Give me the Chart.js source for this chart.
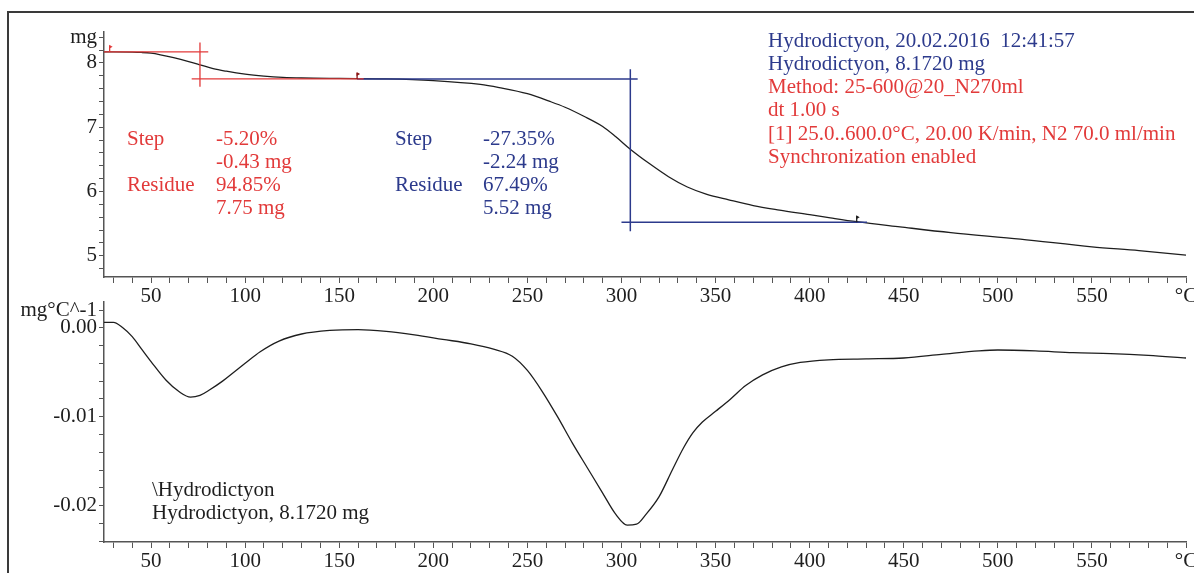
<!DOCTYPE html>
<html>
<head>
<meta charset="utf-8">
<script src="https://cdn.jsdelivr.net/npm/chart.js@4.4.1/dist/chart.umd.min.js"></script>
<style>
  html, body { margin: 0; padding: 0; background: #fff; }
  #wrap { position: relative; width: 1194px; height: 573px; overflow: hidden; }
  #frame { position: absolute; left: 7px; top: 11px; width: 1200px; height: 600px;
           border-left: 2px solid #3a3a3a; border-top: 2px solid #3a3a3a; }
  canvas { position: absolute; left: 0; }
  #tg { top: 0; }
  #dtg { top: 290px; }
</style>
</head>
<body>
<div id="wrap">
  <div id="frame"></div>
  <canvas id="tg" width="1194" height="312"></canvas>
  <canvas id="dtg" width="1194" height="283"></canvas>
</div>
<script>
const FONT = "'Liberation Serif', 'Times New Roman', serif";
const RED = "#e23a3a";
const BLUE = "#2c3a8c";
const INK = "#1e1e1e";

// TG curve: temperature (°C) / mass (mg)
const tgTemp = [25, 30, 40, 45, 50, 55, 62, 70, 76, 83, 90, 100, 110, 120, 130, 150, 175, 200, 225, 235,
                250, 262, 270, 280, 290, 297, 305, 315, 325, 335, 345, 357, 370, 384, 400, 411, 425, 448,
                475, 512, 550, 575, 600];
const tgMass = [8.172, 8.172, 8.168, 8.162, 8.15, 8.125, 8.08, 8.02, 7.97, 7.91, 7.87, 7.825, 7.795, 7.775,
                7.765, 7.758, 7.752, 7.725, 7.665, 7.615, 7.52, 7.40, 7.31, 7.17, 7.01, 6.85, 6.65, 6.43,
                6.23, 6.07, 5.96, 5.87, 5.78, 5.71, 5.64, 5.59, 5.53, 5.45, 5.36, 5.26, 5.14, 5.08, 5.01];

// DTG curve: temperature (°C) / mg·°C^-1
const dtgTemp = [25, 30, 35, 40, 45, 50, 58, 65, 71, 76, 81, 88, 94, 100, 108, 118, 130, 145, 160, 175, 190,
                 205, 220, 232, 242, 250, 258, 266, 274, 282, 290, 297, 303, 308, 313, 320, 327, 333, 338,
                 343, 350, 358, 366, 375, 385, 395, 410, 430, 450, 470, 490, 500, 520, 540, 560, 580, 600];
const dtgRate = [0.0006, 0.0006, 0.0000, -0.0010, -0.0024, -0.0038, -0.0059, -0.0072, -0.0078, -0.0076,
                 -0.0070, -0.0060, -0.0050, -0.0040, -0.0027, -0.0015, -0.0007, -0.0003, -0.0002, -0.0004,
                 -0.0008, -0.0013, -0.0018, -0.0024, -0.0032, -0.0048, -0.0072, -0.0100, -0.0130, -0.0158,
                 -0.0186, -0.0210, -0.0222, -0.0221, -0.0210, -0.0190, -0.0160, -0.0135, -0.0118, -0.0106,
                 -0.0094, -0.0080, -0.0065, -0.0053, -0.0044, -0.0039, -0.0036, -0.0035, -0.0034, -0.0030,
                 -0.0026, -0.0025, -0.0026, -0.0028, -0.0029, -0.0031, -0.0034];

// step evaluation construction lines, [t1, m1, t2, m2] in data units
const redSteps = [[25, 8.172, 80.4, 8.172], [71.6, 7.75, 163, 7.75], [76, 8.315, 76, 7.63]];
const blueSteps = [[159.5, 7.75, 308.6, 7.75], [304.7, 7.90, 304.7, 5.38], [300, 5.52, 430.5, 5.52]];
// step limit pins: temperature, mass
const pinTemp = [28, 159.5, 425];
const pinMass = [8.172, 7.75, 5.52];

const step1Text = [["Step", "-5.20%"], ["", "-0.43 mg"], ["Residue", "94.85%"], ["", "7.75 mg"]];
const step2Text = [["Step", "-27.35%"], ["", "-2.24 mg"], ["Residue", "67.49%"], ["", "5.52 mg"]];
const headerLines = ["Hydrodictyon, 20.02.2016  12:41:57", "Hydrodictyon, 8.1720 mg", "Method: 25-600@20_N270ml",
                     "dt 1.00 s", "[1] 25.0..600.0°C, 20.00 K/min, N2 70.0 ml/min", "Synchronization enabled"];
const headerColors = [BLUE, BLUE, RED, RED, RED, RED];
const curveNote = ["\\Hydrodictyon", "Hydrodictyon, 8.1720 mg"];

function segments(list) {
  const pts = [];
  list.forEach(s => {
    pts.push({ x: s[0], y: s[1] }, { x: s[2], y: s[3] }, { x: s[2], y: null });
  });
  return pts;
}

function pairs(xs, ys) {
  return xs.map((x, i) => ({ x: x, y: ys[i] }));
}

// every multiple of step inside the axis range, nothing at the bounds
function stepTicks(step) {
  return s => {
    const first = Math.ceil(s.min / step - 1e-9), last = Math.floor(s.max / step + 1e-9);
    const ticks = [];
    for (let k = first; k <= last; k++) ticks.push({ value: +(k * step).toFixed(6) });
    s.ticks = ticks;
  };
}

function tempAxis(height) {
  return {
    type: "linear", min: 25, max: 600,
    grid: { drawOnChartArea: false, tickLength: 6, color: "#555", tickWidth: 1 },
    border: { color: "#555", width: 1.5 },
    ticks: {
      autoSkip: false, maxRotation: 0, padding: 1, color: INK,
      font: { family: FONT, size: 21 },
      callback: v => v === 600 ? "°C" : (v % 50 === 0 ? String(v) : "")
    },
    afterBuildTicks: stepTicks(10),
    afterFit: s => { s.height = height; s.paddingLeft = 0; s.paddingRight = 0; }
  };
}

function valueAxis(min, max, step, label) {
  return {
    min: min, max: max,
    grid: { drawOnChartArea: false, tickLength: 5, color: "#555", tickWidth: 1 },
    border: { color: "#555", width: 1.5 },
    ticks: { autoSkip: false, padding: 2, color: INK, font: { family: FONT, size: 21 }, callback: label },
    afterBuildTicks: stepTicks(step),
    afterFit: s => { s.width = 96; s.paddingTop = 0; s.paddingBottom = 0; }
  };
}

// free text and step pins
const notes = {
  id: "notes",
  afterDatasetsDraw(chart, args, opts) {
    const ctx = chart.ctx;
    ctx.save();
    ctx.font = "21px " + FONT;
    ctx.textBaseline = "middle";
    ctx.textAlign = "left";
    (opts.texts || []).forEach(t => {
      ctx.fillStyle = t.color;
      ctx.fillText(t.text, t.x, t.y);
    });
    const xs = chart.scales.x, ys = chart.scales.y;
    (opts.pinTemp || []).forEach((t, i) => {
      const px = xs.getPixelForValue(t), py = ys.getPixelForValue(opts.pinMass[i]);
      ctx.strokeStyle = opts.pinColors[i];
      ctx.fillStyle = opts.pinColors[i];
      ctx.lineWidth = 1.3;
      ctx.beginPath();
      ctx.moveTo(px, py);
      ctx.lineTo(px, py - 6);
      ctx.stroke();
      ctx.beginPath();
      ctx.moveTo(px - 0.5, py - 7);
      ctx.lineTo(px + 3, py - 5);
      ctx.lineTo(px - 0.5, py - 3);
      ctx.closePath();
      ctx.fill();
    });
    ctx.restore();
  }
};

function stepTexts(rows, x1, x2, y0, color) {
  const out = [];
  rows.forEach((r, i) => {
    const y = y0 + i * 23.3;
    if (r[0]) out.push({ text: r[0], x: x1, y: y, color: color });
    out.push({ text: r[1], x: x2, y: y, color: color });
  });
  return out;
}

const topTexts = []
  .concat(stepTexts(step1Text, 127, 216, 139, RED))
  .concat(stepTexts(step2Text, 395, 483, 139, BLUE))
  .concat(headerLines.map((t, i) => ({ text: t, x: 768, y: 41 + i * 23.3, color: headerColors[i] })));

Chart.defaults.font.family = FONT;

new Chart(document.getElementById("tg"), {
  type: "line",
  data: {
    datasets: [
      { data: segments(redSteps), borderColor: RED, borderWidth: 1.3, pointRadius: 0, spanGaps: false },
      { data: segments(blueSteps), borderColor: BLUE, borderWidth: 1.5, pointRadius: 0, spanGaps: false },
      { data: pairs(tgTemp, tgMass), borderColor: INK, borderWidth: 1.3, pointRadius: 0, cubicInterpolationMode: "monotone" }
    ]
  },
  options: {
    responsive: false,
    animation: false,
    layout: { padding: { left: 8, right: 8, top: 32, bottom: 0 } },
    scales: {
      x: tempAxis(35),
      y: valueAxis(4.67, 8.48, 0.2, v => {
        if (Math.abs(v - Math.round(v)) < 1e-6) return String(Math.round(v));
        if (Math.abs(v - 8.4) < 1e-6) return "mg";
        return "";
      })
    },
    plugins: {
      legend: { display: false },
      tooltip: { enabled: false },
      notes: { texts: topTexts, pinTemp: pinTemp, pinMass: pinMass, pinColors: [RED, "#8a1414", INK] }
    }
  },
  plugins: [notes]
});

new Chart(document.getElementById("dtg"), {
  type: "line",
  data: {
    datasets: [
      { data: pairs(dtgTemp, dtgRate), borderColor: INK, borderWidth: 1.3, pointRadius: 0, cubicInterpolationMode: "monotone" }
    ]
  },
  options: {
    responsive: false,
    animation: false,
    layout: { padding: { left: 8, right: 8, top: 12, bottom: 0 } },
    scales: {
      x: tempAxis(31),
      y: valueAxis(-0.0241, 0.0029, 0.002, v => {
        const k = Math.round(v * 1000);
        if (k === 2) return "mg°C^-1";
        if (k % 10 === 0) return (k / 1000).toFixed(2);
        return "";
      })
    },
    plugins: {
      legend: { display: false },
      tooltip: { enabled: false },
      notes: { texts: curveNote.map((t, i) => ({ text: t, x: 152, y: 200 + i * 23.5, color: INK })) }
    }
  },
  plugins: [notes]
});
</script>
</body>
</html>
